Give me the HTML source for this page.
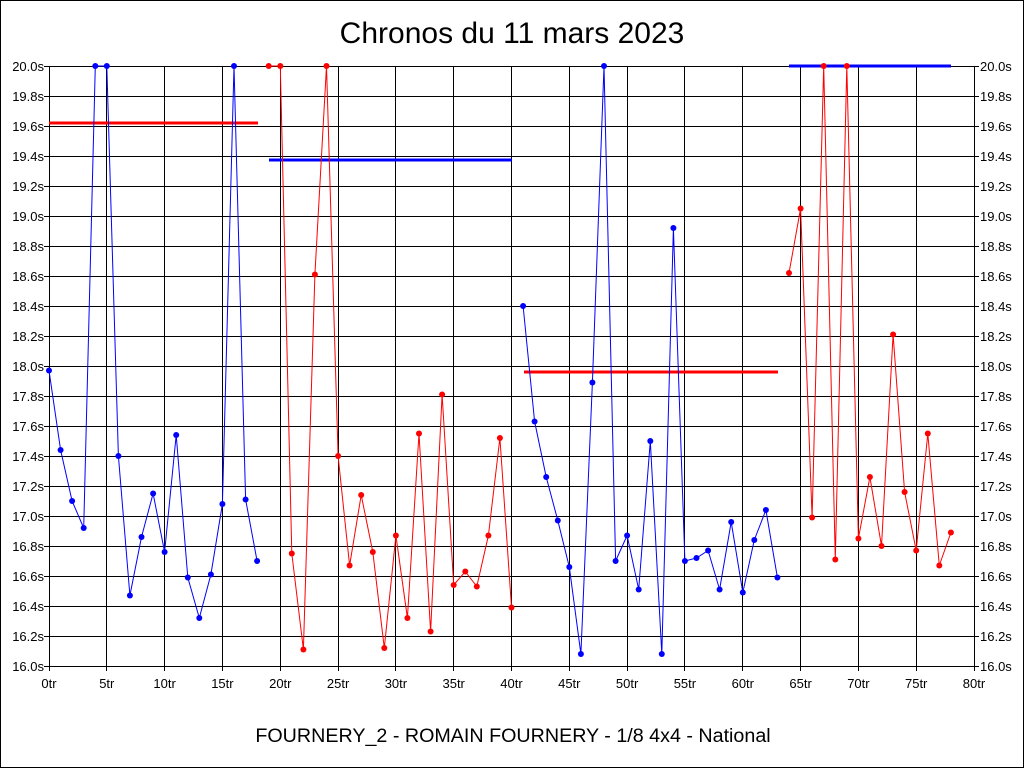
<!DOCTYPE html>
<html><head><meta charset="utf-8"><style>
html,body{margin:0;padding:0;background:#fff;}
svg{display:block;font-family:"Liberation Sans",sans-serif;}
</style></head><body>
<svg width="1024" height="768" viewBox="0 0 1024 768" xmlns="http://www.w3.org/2000/svg">
<rect x="0.5" y="0.5" width="1023" height="767" fill="#fff" stroke="#000"/>
<defs>
<marker id="mb" markerUnits="userSpaceOnUse" markerWidth="8" markerHeight="8" refX="4" refY="4"><circle cx="4" cy="4" r="3" fill="#00f"/></marker>
<marker id="mr" markerUnits="userSpaceOnUse" markerWidth="8" markerHeight="8" refX="4" refY="4"><circle cx="4" cy="4" r="3" fill="#f00"/></marker>
</defs>
<text x="512" y="43" font-size="30" text-anchor="middle">Chronos du 11 mars 2023</text>
<g stroke="#000" stroke-width="1">
<path d="M106.5 66V671M164.5 66V671M222.5 66V671M280.5 66V671M338.5 66V671M395.5 66V671M453.5 66V671M511.5 66V671M569.5 66V671M627.5 66V671M684.5 66V671M742.5 66V671M800.5 66V671M858.5 66V671M916.5 66V671M49.5 666V671M974.5 666V671"/>
<path d="M44 66.5H979M44 96.5H979M44 126.5H979M44 156.5H979M44 186.5H979M44 216.5H979M44 246.5H979M44 276.5H979M44 306.5H979M44 336.5H979M44 366.5H979M44 396.5H979M44 426.5H979M44 456.5H979M44 486.5H979M44 516.5H979M44 546.5H979M44 576.5H979M44 606.5H979M44 636.5H979M44 666.5H979"/>
<rect x="49.5" y="66.5" width="925" height="600" fill="none"/>
</g>
<g font-size="13" text-anchor="end">
<text x="44" y="71">20.0s</text><text x="44" y="101">19.8s</text><text x="44" y="131">19.6s</text><text x="44" y="161">19.4s</text><text x="44" y="191">19.2s</text><text x="44" y="221">19.0s</text><text x="44" y="251">18.8s</text><text x="44" y="281">18.6s</text><text x="44" y="311">18.4s</text><text x="44" y="341">18.2s</text><text x="44" y="371">18.0s</text><text x="44" y="401">17.8s</text><text x="44" y="431">17.6s</text><text x="44" y="461">17.4s</text><text x="44" y="491">17.2s</text><text x="44" y="521">17.0s</text><text x="44" y="551">16.8s</text><text x="44" y="581">16.6s</text><text x="44" y="611">16.4s</text><text x="44" y="641">16.2s</text><text x="44" y="671">16.0s</text>
</g>
<g font-size="13" text-anchor="start">
<text x="980" y="71">20.0s</text><text x="980" y="101">19.8s</text><text x="980" y="131">19.6s</text><text x="980" y="161">19.4s</text><text x="980" y="191">19.2s</text><text x="980" y="221">19.0s</text><text x="980" y="251">18.8s</text><text x="980" y="281">18.6s</text><text x="980" y="311">18.4s</text><text x="980" y="341">18.2s</text><text x="980" y="371">18.0s</text><text x="980" y="401">17.8s</text><text x="980" y="431">17.6s</text><text x="980" y="461">17.4s</text><text x="980" y="491">17.2s</text><text x="980" y="521">17.0s</text><text x="980" y="551">16.8s</text><text x="980" y="581">16.6s</text><text x="980" y="611">16.4s</text><text x="980" y="641">16.2s</text><text x="980" y="671">16.0s</text>
</g>
<g font-size="13" text-anchor="middle">
<text x="49" y="688">0tr</text><text x="106.8" y="688">5tr</text><text x="164.6" y="688">10tr</text><text x="222.4" y="688">15tr</text><text x="280.3" y="688">20tr</text><text x="338.1" y="688">25tr</text><text x="395.9" y="688">30tr</text><text x="453.7" y="688">35tr</text><text x="511.5" y="688">40tr</text><text x="569.3" y="688">45tr</text><text x="627.1" y="688">50tr</text><text x="684.9" y="688">55tr</text><text x="742.8" y="688">60tr</text><text x="800.6" y="688">65tr</text><text x="858.4" y="688">70tr</text><text x="916.2" y="688">75tr</text><text x="974" y="688">80tr</text>
</g>
<text x="513" y="742" font-size="19.7" text-anchor="middle">FOURNERY_2 - ROMAIN FOURNERY - 1/8 4x4 - National</text>
<g stroke-width="3">
<line x1="49" y1="123" x2="258" y2="123" stroke="#f00"/>
<line x1="269" y1="160" x2="512" y2="160" stroke="#00f"/>
<line x1="524" y1="372" x2="778" y2="372" stroke="#f00"/>
<line x1="789" y1="66" x2="951" y2="66" stroke="#00f"/>
</g>
<g fill="none" stroke-width="1">
<polyline stroke="#00f" marker-start="url(#mb)" marker-mid="url(#mb)" marker-end="url(#mb)" points="49,370.5 60.6,450 72.1,501 83.7,528 95.3,66 106.8,66 118.4,456 129.9,595.5 141.5,537 153.1,493.5 164.6,552 176.2,435 187.8,577.5 199.3,618 210.9,574.5 222.4,504 234,66 245.6,499.5 257.1,561"/>
<polyline stroke="#f00" marker-start="url(#mr)" marker-mid="url(#mr)" marker-end="url(#mr)" points="268.7,66 280.3,66 291.8,553.5 303.4,649.5 314.9,274.5 326.5,66 338.1,456 349.6,565.5 361.2,495 372.8,552 384.3,648 395.9,535.5 407.4,618 419,433.5 430.6,631.5 442.1,394.5 453.7,585 465.3,571.5 476.8,586.5 488.4,535.5 499.9,438 511.5,607.5"/>
<polyline stroke="#00f" marker-start="url(#mb)" marker-mid="url(#mb)" marker-end="url(#mb)" points="523.1,306 534.6,421.5 546.2,477 557.8,520.5 569.3,567 580.9,654 592.4,382.5 604,66 615.6,561 627.1,535.5 638.7,589.5 650.3,441 661.8,654 673.4,228 684.9,561 696.5,558 708.1,550.5 719.6,589.5 731.2,522 742.8,592.5 754.3,540 765.9,510 777.4,577.5"/>
<polyline stroke="#f00" marker-start="url(#mr)" marker-mid="url(#mr)" marker-end="url(#mr)" points="789,273 800.6,208.5 812.1,517.5 823.7,66 835.3,559.5 846.8,66 858.4,538.5 869.9,477 881.5,546 893.1,334.5 904.6,492 916.2,550.5 927.8,433.5 939.3,565.5 950.9,532.5"/>
</g>
</svg>
</body></html>
